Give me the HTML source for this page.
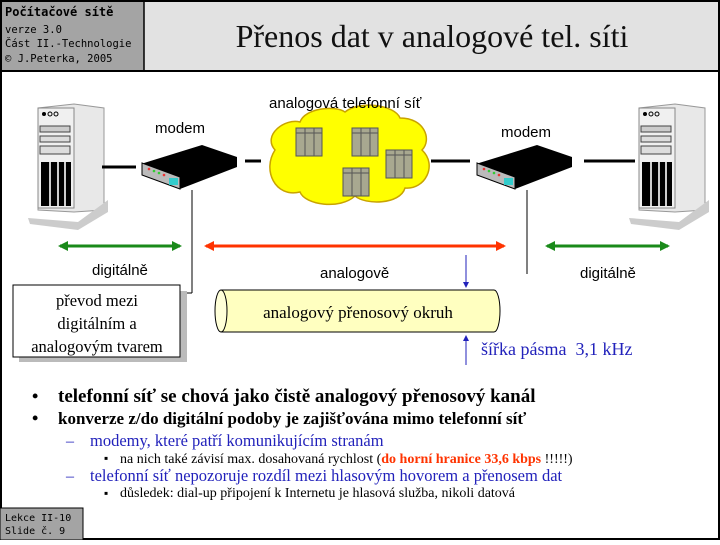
<!DOCTYPE html>
<html><head><meta charset="utf-8"><style>
body{margin:0;width:720px;height:540px;overflow:hidden;background:#fff;font-family:"Liberation Sans",sans-serif}
</style></head><body>
<svg width="720" height="540" xmlns="http://www.w3.org/2000/svg">
<defs>
<marker id="ag" markerUnits="userSpaceOnUse" markerWidth="10" markerHeight="10" refX="8" refY="5" orient="auto-start-reverse"><path d="M0,0 L10,5 L0,10z" fill="#1a8a1a"/></marker>
<marker id="ar" markerUnits="userSpaceOnUse" markerWidth="10" markerHeight="10" refX="8" refY="5" orient="auto-start-reverse"><path d="M0,0 L10,5 L0,10z" fill="#ff3300"/></marker>
<marker id="ab" markerUnits="userSpaceOnUse" markerWidth="6" markerHeight="6" refX="5" refY="3" orient="auto"><path d="M0,0 L6,3 L0,6z" fill="#2222bb"/></marker>
<g id="pc">
<path d="M0,8 L36,4 L66,8 L66,110 L36,112 L0,110z" fill="#e8e8e8" stroke="#999"/>
<rect x="0" y="8" width="36" height="100" fill="#f0f0f0" stroke="#888"/>
<circle cx="6" cy="14" r="2" fill="#000"/><circle cx="12" cy="14" r="2" fill="none" stroke="#000"/><circle cx="18" cy="14" r="2" fill="none" stroke="#000"/>
<rect x="2" y="26" width="30" height="6" fill="#ccc" stroke="#444"/>
<rect x="2" y="36" width="30" height="6" fill="#ddd" stroke="#444"/>
<rect x="2" y="46" width="30" height="8" fill="#ddd" stroke="#444"/>
<rect x="3" y="62" width="30" height="44" fill="#000"/>
<line x1="12" y1="62" x2="12" y2="106" stroke="#ccc" stroke-width="2"/><line x1="20" y1="62" x2="20" y2="106" stroke="#ccc" stroke-width="2"/><line x1="27" y1="62" x2="27" y2="106" stroke="#ccc" stroke-width="2"/>
<path d="M-10,118 L40,122 L70,100 L70,112 L40,130 L-8,124z" fill="#ccc"/>
</g>
<g id="modem">
<path d="M2,18 L60,0 L95,12 L95,22 L38,44 L0,30z" fill="#000"/>
<path d="M0,18 L38,32 L38,44 L0,30z" fill="#bbb" stroke="#000"/>
<rect x="27" y="33" width="9" height="7" fill="#3cc"/>
<circle cx="7" cy="24" r="1.3" fill="#e33"/><circle cx="12" cy="26" r="1.3" fill="#3c3"/><circle cx="17" cy="28" r="1.3" fill="#3c3"/><circle cx="22" cy="30" r="1.3" fill="#e33"/>
</g>
<g id="box"><rect x="0" y="0" width="26" height="28" fill="#a8a890" stroke="#555"/><line x1="9" y1="0" x2="9" y2="28" stroke="#555"/><line x1="18" y1="0" x2="18" y2="28" stroke="#555"/><line x1="0" y1="5" x2="26" y2="5" stroke="#555"/></g>
</defs>
<rect x="0" y="0" width="720" height="540" fill="#fff"/>
<rect x="0" y="0" width="720" height="71" fill="#e2e2e2"/>
<rect x="0" y="0" width="144" height="71" fill="#a4a4a4"/>
<line x1="144" y1="0" x2="144" y2="71" stroke="#000" stroke-width="1.5"/>
<line x1="0" y1="71" x2="720" y2="71" stroke="#000" stroke-width="2"/>
<rect x="1" y="1" width="718" height="538" fill="none" stroke="#000" stroke-width="2"/>
<g font-family="DejaVu Sans Mono,Liberation Mono,monospace" fill="#000">
<text x="5" y="16" font-size="12" font-weight="bold">Počítačové sítě</text>
<text x="5" y="33" font-size="10.5">verze 3.0</text>
<text x="5" y="47" font-size="10.5">Část II.-Technologie</text>
<text x="5" y="62" font-size="10.5">© J.Peterka, 2005</text>
</g>
<text x="432" y="47" font-family="Liberation Serif,serif" font-size="32" text-anchor="middle" fill="#111">Přenos dat v analogové tel. síti</text>

<use href="#pc" x="38" y="100"/>
<use href="#pc" x="639" y="100"/>
<use href="#modem" x="142" y="145"/>
<use href="#modem" x="477" y="145"/>
<path d="M275,150 C262,135 285,118 300,122 C305,108 335,105 345,112 C360,100 395,105 400,118 C425,118 432,140 422,150 C438,165 425,190 405,188 C400,205 365,205 355,196 C340,210 305,205 300,192 C275,198 262,170 275,150z" fill="#ffff00" stroke="#c9a300" stroke-width="1.5"/>
<use href="#box" x="296" y="128"/><use href="#box" x="352" y="128"/><use href="#box" x="386" y="150"/><use href="#box" x="343" y="168"/>
<g stroke="#000" stroke-width="3">
<line x1="102" y1="167" x2="136" y2="167"/><line x1="245" y1="161" x2="261" y2="161"/>
<line x1="431" y1="161" x2="470" y2="161"/><line x1="584" y1="161" x2="635" y2="161"/>
</g>
<g stroke="#000" stroke-width="1"><line x1="192" y1="190" x2="192" y2="293"/><line x1="192" y1="293" x2="186" y2="293"/><line x1="527" y1="190" x2="527" y2="274"/></g>
<line x1="60" y1="246" x2="180" y2="246" stroke="#1a8a1a" stroke-width="3" marker-start="url(#ag)" marker-end="url(#ag)"/>
<line x1="206" y1="246" x2="504" y2="246" stroke="#ff3300" stroke-width="3" marker-start="url(#ar)" marker-end="url(#ar)"/>
<line x1="547" y1="246" x2="668" y2="246" stroke="#1a8a1a" stroke-width="3" marker-start="url(#ag)" marker-end="url(#ag)"/>
<g font-size="15" fill="#000">
<text x="269" y="108">analogová telefonní síť</text>
<text x="155" y="133">modem</text>
<text x="501" y="137">modem</text>
<text x="92" y="275">digitálně</text>
<text x="320" y="278">analogově</text>
<text x="580" y="278">digitálně</text>
</g>
<rect x="19" y="291" width="168" height="71" fill="#bbb"/>
<rect x="13" y="285" width="167" height="72" fill="#fff" stroke="#000"/>
<g font-family="Liberation Serif,serif" font-size="16.5" text-anchor="middle">
<text x="97" y="306">převod mezi</text><text x="97" y="329">digitálním a</text><text x="97" y="352">analogovým tvarem</text>
</g>
<path d="M221,290 L494,290 A6,21 0 0 1 494,332 L221,332z" fill="#ffffc0" stroke="#000"/>
<ellipse cx="221" cy="311" rx="6" ry="21" fill="#ffffd8" stroke="#000"/>
<text x="358" y="318" font-family="Liberation Serif,serif" font-size="17" text-anchor="middle">analogový přenosový okruh</text>
<line x1="466" y1="255" x2="466" y2="287" stroke="#2222bb" marker-end="url(#ab)"/>
<line x1="466" y1="365" x2="466" y2="336" stroke="#2222bb" marker-end="url(#ab)"/>
<text x="481" y="355" font-family="Liberation Serif,serif" font-size="18" fill="#2222bb" xml:space="preserve">šířka pásma  3,1 kHz</text>
<g font-family="Liberation Serif,serif">
<text x="32" y="402" font-size="18" font-weight="bold">•</text>
<text x="58" y="402" font-size="19" font-weight="bold">telefonní síť se chová jako čistě analogový přenosový kanál</text>
<text x="32" y="424" font-size="18" font-weight="bold">•</text>
<text x="58" y="424" font-size="17" font-weight="bold">konverze z/do digitální podoby je zajišťována mimo telefonní síť</text>
<text x="66" y="446" font-size="16" fill="#2222bb">–</text>
<text x="90" y="446" font-size="16.5" fill="#2222bb">modemy, které patří komunikujícím stranám</text>
<text x="104" y="462" font-size="12">▪</text>
<text x="120" y="463" font-size="14">na nich také závisí max. dosahovaná rychlost (<tspan fill="#ff3300" font-weight="bold">do horní hranice 33,6 kbps </tspan>!!!!!)</text>
<text x="66" y="481" font-size="16" fill="#2222bb">–</text>
<text x="90" y="481" font-size="16.5" fill="#2222bb">telefonní síť nepozoruje rozdíl mezi hlasovým hovorem a přenosem dat</text>
<text x="104" y="497" font-size="12">▪</text>
<text x="120" y="497" font-size="14">důsledek: dial-up připojení k Internetu je hlasová služba, nikoli datová</text>
</g>
<rect x="0" y="508" width="83" height="32" fill="#a4a4a4" stroke="#000"/>
<g font-family="DejaVu Sans Mono,Liberation Mono,monospace" font-size="10">
<text x="5" y="521">Lekce II-10</text><text x="5" y="534">Slide č. 9</text>
</g>
</svg>
</body></html>
